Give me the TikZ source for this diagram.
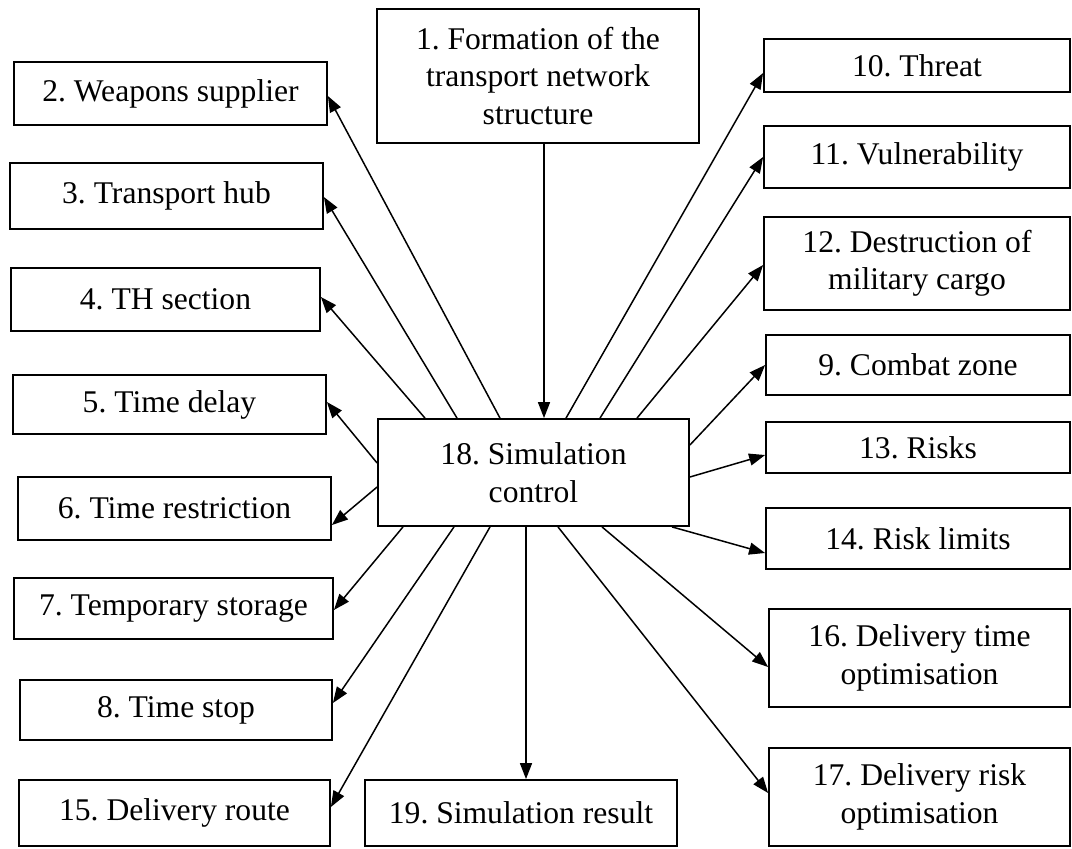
\documentclass[tikz,border=0pt]{standalone}
\usepackage{fontspec}
\setmainfont{Liberation Serif}
\usetikzlibrary{arrows.meta}
\begin{document}
\frenchspacing
\begin{tikzpicture}[x=0.5pt,y=-0.5pt,
  box/.style={draw, line width=0.9pt, inner sep=0pt, align=center,
    font=\fontsize{15.8}{18.7}\selectfont},
  arr/.style={line width=0.75pt, -{Triangle[length=8pt,width=6pt]}}]
\useasboundingbox[fill=white] (0,0) rectangle (1072,848);
\node[box, minimum width=161pt, minimum height=67pt] (n1) at (538,76) {1. Formation of the\\transport network\\structure};
\node[box, minimum width=156.5pt, minimum height=31.5pt] (n2) at (170.5,93.5) {2. Weapons supplier};
\node[box, minimum width=156.5pt, minimum height=33pt] (n3) at (166.5,196) {3. Transport hub};
\node[box, minimum width=154.5pt, minimum height=31.5pt] (n4) at (165.5,299.5) {4. TH section};
\node[box, minimum width=156.5pt, minimum height=29.5pt] (n5) at (169.5,404.5) {5. Time delay};
\node[box, minimum width=156.5pt, minimum height=31.5pt] (n6) at (174.5,508.5) {6. Time restriction};
\node[box, minimum width=159.5pt, minimum height=30.5pt] (n7) at (173.5,608.5) {7. Temporary storage};
\node[box, minimum width=156pt, minimum height=30pt] (n8) at (176,710) {8. Time stop};
\node[box, minimum width=155.5pt, minimum height=33pt] (n15) at (174.5,813) {15. Delivery route};
\node[box, minimum width=156pt, minimum height=33pt] (n19) at (521,813) {19. Simulation result};
\node[box, minimum width=155.5pt, minimum height=53.5pt] (n18) at (533.5,472.5) {18. Simulation\\control};
\node[box, minimum width=153pt, minimum height=26.5pt] (n10) at (917,65.5) {10. Threat};
\node[box, minimum width=153pt, minimum height=31pt] (n11) at (917,157) {11. Vulnerability};
\node[box, minimum width=153pt, minimum height=46.5pt] (n12) at (917,263.5) {12. Destruction of\\military cargo};
\node[box, minimum width=152pt, minimum height=30pt] (n9) at (918,365) {9. Combat zone};
\node[box, minimum width=152pt, minimum height=25.5pt] (n13) at (918,447.5) {13. Risks};
\node[box, minimum width=152pt, minimum height=30.5pt] (n14) at (918,538.5) {14. Risk limits};
\node[box, minimum width=150.5pt, minimum height=49pt] (n16) at (919.5,658) {16. Delivery time\\optimisation};
\node[box, minimum width=150.5pt, minimum height=49pt] (n17) at (919.5,797) {17. Delivery risk\\optimisation};
% arrows
\draw[arr] (n1.south -| 544,0) -- (n18.north -| 544,0);
\draw[arr] (n18.south -| 526,0) -- (n19.north -| 526,0);
\draw[arr] (n18.north -| 500,0) -- (n2.east |- 0,96);
\draw[arr] (n18.north -| 457,0) -- (n3.east |- 0,197);
\draw[arr] (n18.north -| 425,0) -- (n4.east |- 0,297);
\draw[arr] (n18.west |- 0,463) -- (n5.east |- 0,402);
\draw[arr] (n18.west |- 0,487) -- (n6.east |- 0,525);
\draw[arr] (n18.south -| 403,0) -- (n7.east |- 0,610);
\draw[arr] (n18.south -| 454,0) -- (n8.east |- 0,703);
\draw[arr] (n18.south -| 490,0) -- (n15.east |- 0,807);
\draw[arr] (n18.south -| 558,0) -- (n17.west |- 0,793);
\draw[arr] (n18.south -| 602,0) -- (n16.west |- 0,667);
\draw[arr] (n18.south -| 672,0) -- (n14.west |- 0,553);
\draw[arr] (n18.east |- 0,477) -- (n13.west |- 0,455);
\draw[arr] (n18.east |- 0,445) -- (n9.west |- 0,365);
\draw[arr] (n18.north -| 637,0) -- (n12.west |- 0,265);
\draw[arr] (n18.north -| 600,0) -- (n11.west |- 0,157);
\draw[arr] (n18.north -| 566,0) -- (n10.west |- 0,73);
\end{tikzpicture}
\end{document}
